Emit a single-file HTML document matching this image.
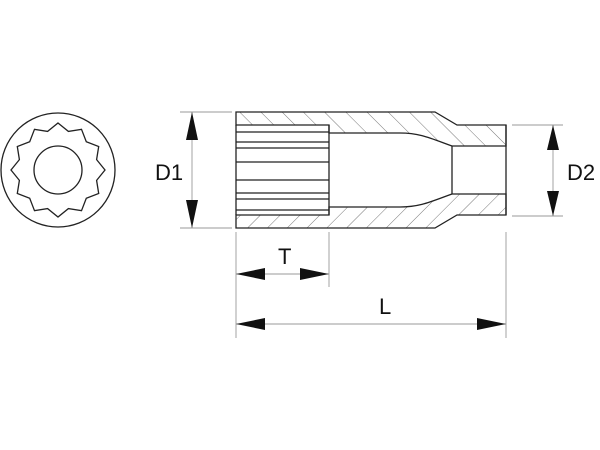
<!DOCTYPE html>
<html><head><style>html,body{margin:0;padding:0;background:#fff}svg{display:block}</style></head><body>
<svg width="600" height="450" viewBox="0 0 600 450" xmlns="http://www.w3.org/2000/svg">
<defs>
<pattern id="h1" patternUnits="userSpaceOnUse" width="15" height="15" patternTransform="rotate(-45)">
<line x1="0" y1="0" x2="0" y2="15" stroke="#555" stroke-width="0.8"/></pattern>
<pattern id="h2" patternUnits="userSpaceOnUse" width="14" height="14" patternTransform="rotate(45)">
<line x1="0" y1="0" x2="0" y2="14" stroke="#555" stroke-width="0.8"/></pattern>
</defs>
<g fill="none" stroke="#222" stroke-width="1.3">
<circle cx="58" cy="170" r="57"/>
<polygon id="star" points=""/>
<circle cx="58" cy="170" r="24"/>
</g>
<path d="M236,112 L435,112 L457,125 L506,125 L506,146 L452,146 C430,138 420,133 400,133 L329,133 L329,125 L236,125 Z" fill="url(#h1)" stroke="#222" stroke-width="1.3"/>
<path d="M236,228 L435,228 L457,215 L506,215 L506,194 L452,194 C430,202 420,207 400,207 L329,207 L329,215 L236,215 Z" fill="url(#h2)" stroke="#222" stroke-width="1.3"/>
<g stroke="#222" stroke-width="1.3" fill="none">
<line x1="236" y1="125" x2="236" y2="215"/>
<line x1="452" y1="146" x2="452" y2="194"/>
<line x1="506" y1="125" x2="506" y2="215"/>
<line x1="236" y1="132" x2="329" y2="132"/>
<line x1="236" y1="142" x2="329" y2="142"/>
<line x1="236" y1="148" x2="329" y2="148"/>
<line x1="236" y1="162" x2="329" y2="162"/>
<line x1="236" y1="180" x2="329" y2="180"/>
<line x1="236" y1="193" x2="329" y2="193"/>
<line x1="236" y1="199" x2="329" y2="199"/>
<line x1="236" y1="210" x2="329" y2="210"/>
<line x1="329" y1="125" x2="329" y2="215"/>
</g>
<g stroke="#999" stroke-width="0.9">
<line x1="180" y1="112" x2="232" y2="112"/>
<line x1="180" y1="228" x2="232" y2="228"/>
<line x1="192" y1="112" x2="192" y2="228"/>
<line x1="512" y1="125" x2="563" y2="125"/>
<line x1="512" y1="216" x2="563" y2="216"/>
<line x1="553" y1="125" x2="553" y2="216"/>
<line x1="236" y1="232" x2="236" y2="338"/>
<line x1="329" y1="232" x2="329" y2="287"/>
<line x1="506" y1="232" x2="506" y2="338"/>
<line x1="236" y1="274" x2="329" y2="274"/>
<line x1="236" y1="324" x2="506" y2="324"/>
</g>
<g fill="#111">
<polygon points="192,112 186,140 198,140"/>
<polygon points="192,228 186,200 198,200"/>
<polygon points="553,125 547,150 559,150"/>
<polygon points="553,216 547,191 559,191"/>
<polygon points="236,274 265,268 265,280"/>
<polygon points="329,274 300,268 300,280"/>
<polygon points="236,324 265,318 265,330"/>
<polygon points="506,324 477,318 477,330"/>
</g>
<g font-family="Liberation Sans, sans-serif" font-size="22" fill="#111">
<text x="155" y="180">D1</text>
<text x="567" y="180">D2</text>
<text x="278" y="264">T</text>
<text x="379" y="314">L</text>
</g>
<script>
var p=[];for(var i=0;i<24;i++){var a=i*Math.PI/12-Math.PI/2;var r=i%2?40:47;p.push((58+r*Math.cos(a)).toFixed(1)+','+(170+r*Math.sin(a)).toFixed(1));}
document.getElementById('star').setAttribute('points',p.join(' '));
</script>
</svg>
</body></html>
